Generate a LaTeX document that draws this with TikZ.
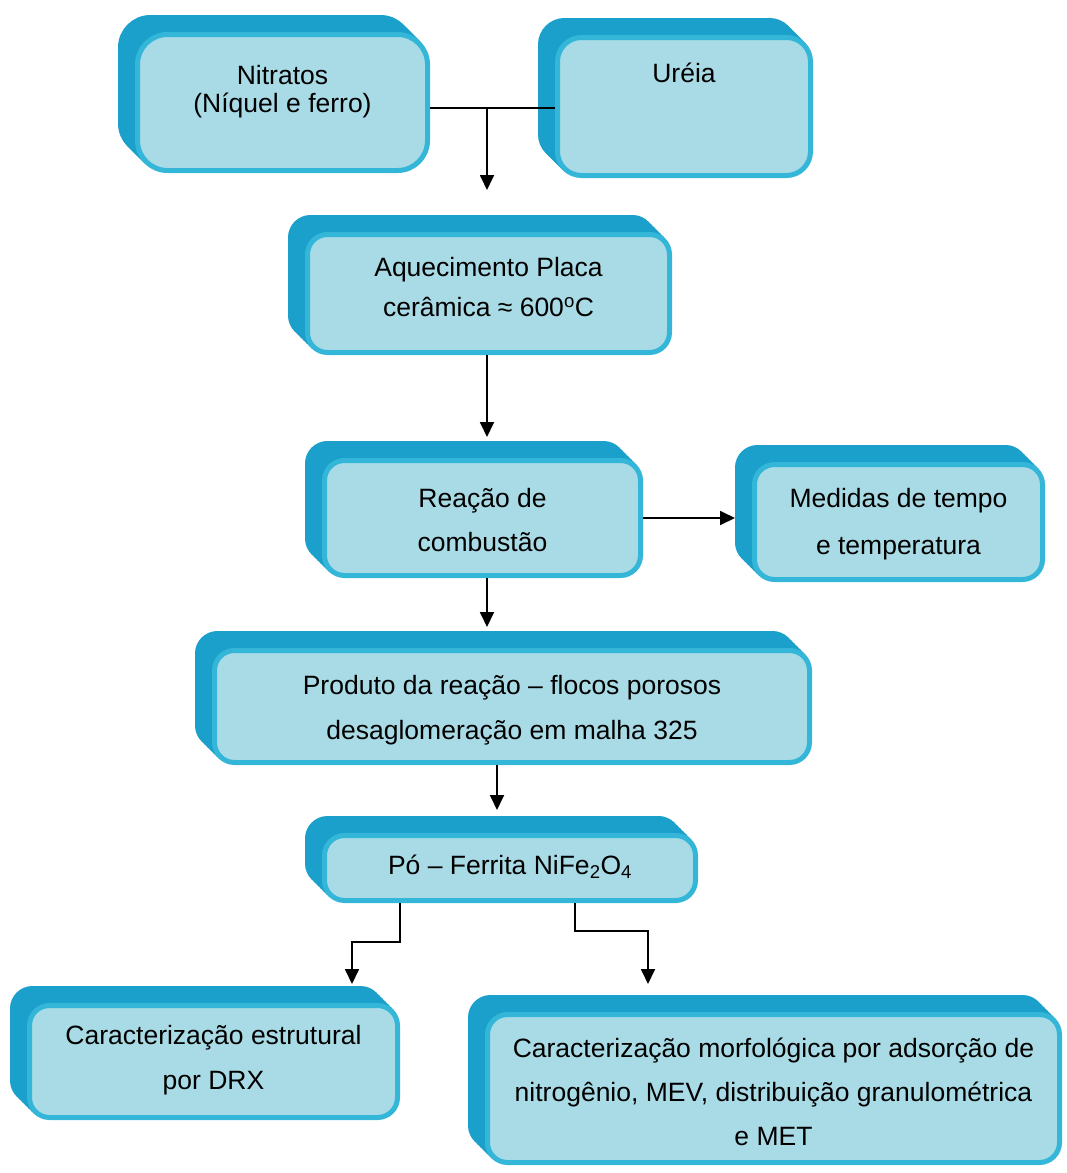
\documentclass[tikz,border=0pt]{standalone}
\usepackage{fontspec}
\setmainfont{Liberation Sans}
\usetikzlibrary{arrows.meta}
\definecolor{boxback}{RGB}{27,160,203}
\definecolor{boxline}{RGB}{52,182,217}
\definecolor{boxfill}{RGB}{168,219,229}
\newcommand{\lsp}[1]{\fontsize{26.5}{#1}\selectfont}
\begin{document}
\begin{tikzpicture}[x=1pt,y=-1pt,
  ext/.style={preaction={fill=boxback,draw=boxback,line width=5pt,transform canvas={shift={(-#1pt,#1pt)}}}},
  fbox/.style={rounded corners=20pt, draw=boxline, line width=5pt, fill=boxfill, inner sep=0pt,
    ext=17, ext=14, ext=11, ext=8, ext=5, ext=2},
  conn/.style={line width=1.8pt, draw=black},
  arr/.style={conn, -{Triangle[width=14pt,length=15pt]}}]
\useasboundingbox (0,0) rectangle (1067,1173);

\node[fbox, rounded corners=30pt, minimum width=290pt, minimum height=136pt, text height=0pt, text depth=36pt] (n1) at (282.5,102.5)
  {\lsp{27}\begin{tabular}[t]{@{}c@{}}Nitratos\\(Níquel e ferro)\end{tabular}};
\node[fbox, rounded corners=24pt, minimum width=253pt, minimum height=138pt, text height=0pt, text depth=48pt] (n2) at (684,106.5)
  {\lsp{27}\begin{tabular}[t]{@{}c@{}}Uréia\end{tabular}};
\node[fbox, minimum width=362pt, minimum height=118pt, text height=0pt, text depth=34pt] (n3) at (488.5,293.5)
  {\lsp{40}\begin{tabular}[t]{@{}c@{}}Aquecimento Placa\\cerâmica ≈ 600\textsuperscript{o}C\end{tabular}};
\node[fbox, minimum width=316pt, minimum height=115pt, text height=0pt, text depth=21pt] (n4) at (482.5,518)
  {\lsp{44}\begin{tabular}[t]{@{}c@{}}Reação de\\combustão\end{tabular}};
\node[fbox, minimum width=288pt, minimum height=115pt, text height=0pt, text depth=29pt] (n5) at (898.5,522)
  {\lsp{47}\begin{tabular}[t]{@{}c@{}}Medidas de tempo\\e temperatura\end{tabular}};
\node[fbox, minimum width=595pt, minimum height=112pt, text height=0pt, text depth=24pt] (n6) at (512,706.5)
  {\lsp{45}\begin{tabular}[t]{@{}c@{}}Produto da reação -- flocos porosos\\desaglomeração em malha 325\end{tabular}};
\node[fbox, minimum width=371pt, minimum height=65pt, text height=13pt, text depth=0pt] (n7) at (510,868)
  {\lsp{30}\begin{tabular}[t]{@{}c@{}}Pó -- Ferrita NiFe\textsubscript{2}O\textsubscript{4}\end{tabular}};
\node[fbox, minimum width=368pt, minimum height=112pt, text height=0pt, text depth=34pt] (n8) at (213.5,1061.5)
  {\lsp{45}\begin{tabular}[t]{@{}c@{}}Caracterização estrutural\\por DRX\end{tabular}};
\node[fbox, minimum width=572pt, minimum height=148pt, text height=0pt, text depth=62pt] (n9) at (773.5,1088.5)
  {\lsp{44}\begin{tabular}[t]{@{}c@{}}Caracterização morfológica por adsorção de\\nitrogênio, MEV, distribuição granulométrica\\e MET\end{tabular}};

\coordinate (j1) at (487,108);
\coordinate (t1) at (487,190);
\coordinate (t2) at (487,437);
\coordinate (t3) at (735,518);
\coordinate (t4) at (487,627);
\coordinate (t5) at (497,810);
\coordinate (k1) at (400,942);
\coordinate (k2) at (352,942);
\coordinate (t6) at (352,984);
\coordinate (k3) at (575,931);
\coordinate (k4) at (648,931);
\coordinate (t7) at (648,984);

\draw[conn] (n1.east |- j1) -- (n2.west |- j1);
\draw[arr] (j1) -- (t1);
\draw[arr] (n3.south -| t2) -- (t2);
\draw[arr] (n4.east |- t3) -- (t3);
\draw[arr] (n4.south -| t4) -- (t4);
\draw[arr] (n6.south -| t5) -- (t5);
\draw[arr] (n7.south -| k1) -- (k1) -- (k2) -- (t6);
\draw[arr] (n7.south -| k3) -- (k3) -- (k4) -- (t7);
\end{tikzpicture}
\end{document}
